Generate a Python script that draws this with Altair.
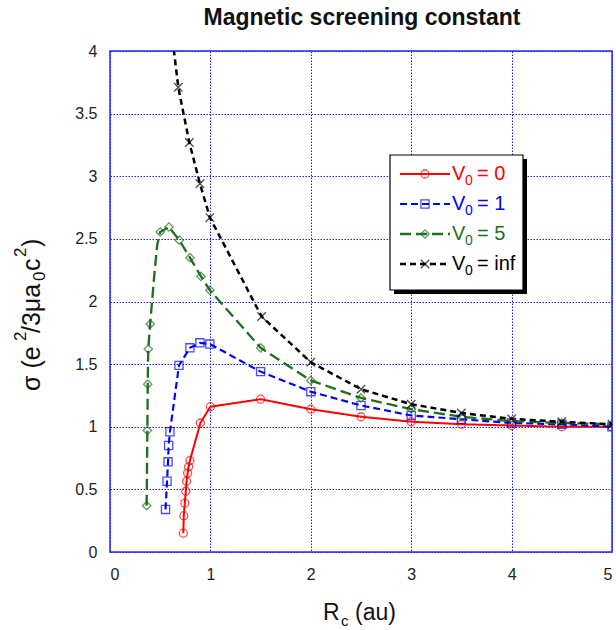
import altair as alt
import pandas as pd

FONT = "Liberation Sans"

# ---- data ----
series_names = ["V₀ = 0", "V₀ = 1", "V₀ = 5", "V₀ = inf"]
legend_values = ["= 0", "= 1", "= 5", "= inf"]

red_x = [0.73, 0.735, 0.745, 0.755, 0.763, 0.773, 0.783, 0.796, 0.9, 1.0, 1.5, 2.0, 2.5, 3.0, 3.5, 4.0, 4.5, 5.0]
red_y = [0.15, 0.29, 0.39, 0.485, 0.565, 0.63, 0.68, 0.73, 1.03, 1.16, 1.22, 1.14, 1.08, 1.04, 1.02, 1.01, 1.0, 1.0]

blue_x = [0.553, 0.568, 0.578, 0.584, 0.597, 0.687, 0.796, 0.896, 0.995, 1.5, 2.0, 2.5, 3.0, 3.5, 4.0, 4.5, 5.0]
blue_y = [0.34, 0.565, 0.72, 0.85, 0.96, 1.49, 1.63, 1.67, 1.66, 1.44, 1.28, 1.17, 1.09, 1.06, 1.03, 1.02, 1.0]

green_x = [0.365, 0.372, 0.376, 0.381, 0.4, 0.44, 0.47, 0.5, 0.587, 0.69, 0.796, 0.906, 0.995, 1.5, 2.0, 2.5, 3.0, 3.5, 4.0, 4.5, 5.0]
green_y = [0.37, 0.97, 1.34, 1.62, 1.82, 2.2, 2.45, 2.555, 2.595, 2.49, 2.35, 2.2, 2.09, 1.63, 1.37, 1.23, 1.14, 1.08, 1.045, 1.03, 1.02]
green_marked = [1, 1, 1, 1, 1, 0, 0, 1, 1, 1, 1, 1, 1, 1, 1, 1, 1, 1, 1, 1, 1]

black_x = [0.6, 0.68, 0.79, 0.896, 0.995, 1.51, 2.0, 2.5, 3.0, 3.5, 4.0, 4.5, 5.0]
black_y = [4.25, 3.71, 3.27, 2.94, 2.67, 1.88, 1.515, 1.3, 1.18, 1.11, 1.063, 1.04, 1.02]

x_ticks = [0, 1, 2, 3, 4, 5]
y_ticks = [0, 0.5, 1, 1.5, 2, 2.5, 3, 3.5, 4]

# ---- styles ----
colors = ["#ff0000", "#0000ff", "#1f6f1f", "#000000"]
text_colors = ["#ff0000", "#0000ff", "#1f6f1f", "#222222"]
dashes = [[1, 0], [7, 4], [11, 5], [6, 4]]
widths = [2, 2.5, 2.5, 2.5]
shapes = ["circle", "square", "diamond", "M-1,-1L1,1M-1,1L1,-1"]
sizes = [64, 72, 45, 64]

rows = []
for name, xs, ys, marks in [
    (series_names[0], red_x, red_y, [1] * len(red_x)),
    (series_names[1], blue_x, blue_y, [1] * len(blue_x)),
    (series_names[2], green_x, green_y, green_marked),
    (series_names[3], black_x, black_y, [1] * len(black_x)),
]:
    for i, (xv, yv, m) in enumerate(zip(xs, ys, marks)):
        rows.append({"series": name, "x": xv, "y": yv, "marked": bool(m), "order": i})
df = pd.DataFrame(rows)

color_scale = alt.Scale(domain=series_names, range=colors)
text_scale = alt.Scale(domain=series_names, range=text_colors)
dash_scale = alt.Scale(domain=series_names, range=dashes)
width_scale = alt.Scale(domain=series_names, range=widths)
shape_scale = alt.Scale(domain=series_names, range=shapes)
size_scale = alt.Scale(domain=series_names, range=sizes)

OX, OY = 110, 51  # plot origin in page pixels

x_enc = alt.X("x:Q", scale=alt.Scale(domain=[0, 5], nice=False),
              axis=alt.Axis(values=x_ticks, format="d", title=None, labelPadding=14))
y_enc = alt.Y("y:Q", scale=alt.Scale(domain=[0, 4], nice=False),
              axis=alt.Axis(values=y_ticks, format="~g", title=None, labelPadding=13))

base = alt.Chart(df).encode(
    x=x_enc, y=y_enc,
    color=alt.Color("series:N", scale=color_scale, legend=None),
)

lines = base.mark_line(clip=True).encode(
    strokeDash=alt.StrokeDash("series:N", scale=dash_scale, legend=None),
    strokeWidth=alt.StrokeWidth("series:N", scale=width_scale, legend=None),
    order="order:Q",
)

points = base.transform_filter("datum.marked").mark_point(
    clip=True, filled=False, strokeWidth=1.3
).encode(
    shape=alt.Shape("series:N", scale=shape_scale, legend=None),
    size=alt.Size("series:N", scale=size_scale, legend=None),
)

# ---- hand-made legend box ----
one = pd.DataFrame({"k": [0]})
shadow = alt.Chart(one).mark_rect(fill="black").encode(
    x=alt.value(390 - OX + 4), x2=alt.value(523 - OX + 4),
    y=alt.value(155 - OY + 4), y2=alt.value(290 - OY + 4),
)
box = alt.Chart(one).mark_rect(fill="white", stroke="black", strokeWidth=1.2).encode(
    x=alt.value(390 - OX), x2=alt.value(523 - OX),
    y=alt.value(155 - OY), y2=alt.value(290 - OY),
)

leg_df = pd.DataFrame({"series": series_names, "val": legend_values, "row": [0, 1, 2, 3]})
leg = alt.Chart(leg_df).transform_calculate(
    py=f"{174 - OY} + 30*datum.row",
    pys=f"{181 - OY} + 30*datum.row",
)
leg_y = alt.Y("py:Q", scale=None, axis=None)
leg_ys = alt.Y("pys:Q", scale=None, axis=None)
leg_color = alt.Color("series:N", scale=text_scale, legend=None)
leg_lines = leg.mark_rule().encode(
    x=alt.value(400 - OX), x2=alt.value(450 - OX), y=leg_y,
    color=alt.Color("series:N", scale=color_scale, legend=None),
    strokeDash=alt.StrokeDash("series:N", scale=dash_scale, legend=None),
    strokeWidth=alt.StrokeWidth("series:N", scale=width_scale, legend=None),
)
leg_pts = leg.mark_point(filled=False, strokeWidth=1.3).encode(
    x=alt.value(425 - OX), y=leg_y,
    color=alt.Color("series:N", scale=color_scale, legend=None),
    shape=alt.Shape("series:N", scale=shape_scale, legend=None),
    size=alt.Size("series:N", scale=size_scale, legend=None),
)
leg_V = leg.mark_text(text="V", align="left", baseline="middle", font=FONT, fontSize=20).encode(
    x=alt.value(452 - OX), y=leg_y, color=leg_color)
leg_0 = leg.mark_text(text="0", align="left", baseline="middle", font=FONT, fontSize=14).encode(
    x=alt.value(465 - OX), y=leg_ys, color=leg_color)
leg_val = leg.mark_text(align="left", baseline="middle", font=FONT, fontSize=20).encode(
    x=alt.value(477 - OX), y=leg_y, text="val:N", color=leg_color)


def txt(s, x, y, size, angle=0, align="left", weight="normal", color="#111111"):
    kw = dict(text=s, align=align, baseline="alphabetic", font=FONT, fontSize=size,
              fontWeight=weight, color=color)
    if angle:
        kw["angle"] = angle
    return alt.Chart(one).mark_text(**kw).encode(x=alt.value(x - OX), y=alt.value(y - OY))


# ---- titles as text ----
title = txt("Magnetic screening constant", 362, 25, 23, align="center", weight="bold")
x_title = [
    txt("R", 323, 620, 23),
    txt("c", 341, 626, 15),
    txt("(au)", 355, 620, 23),
]
y_title = [
    txt("σ (e", 40, 391, 25, angle=270),
    txt("2", 26, 341, 17, angle=270),
    txt("/3μa", 40, 333, 25, angle=270),
    txt("0", 45, 281, 17, angle=270),
    txt("c", 40, 271, 25, angle=270),
    txt("2", 26, 257, 17, angle=270),
    txt(")", 40, 247, 25, angle=270),
]

chart = alt.layer(
    lines, points, shadow, box, leg_lines, leg_pts, leg_V, leg_0, leg_val,
    title, *x_title, *y_title
).properties(
    width=502, height=501,
    padding={"left": OX, "top": OY, "right": 4, "bottom": 78},
    autosize=alt.AutoSizeParams(type="none"),
).configure_view(
    stroke="#2a2aff", strokeWidth=1.5
).configure_axis(
    grid=True, gridColor="#1f1fff", gridDash=[1.5, 1.5], gridWidth=1, gridOpacity=1,
    domain=False, ticks=False,
    labelFont=FONT, labelFontSize=16, labelColor="#222222",
)

chart.save("out.html", embed_options={"renderer": "svg", "actions": False})
